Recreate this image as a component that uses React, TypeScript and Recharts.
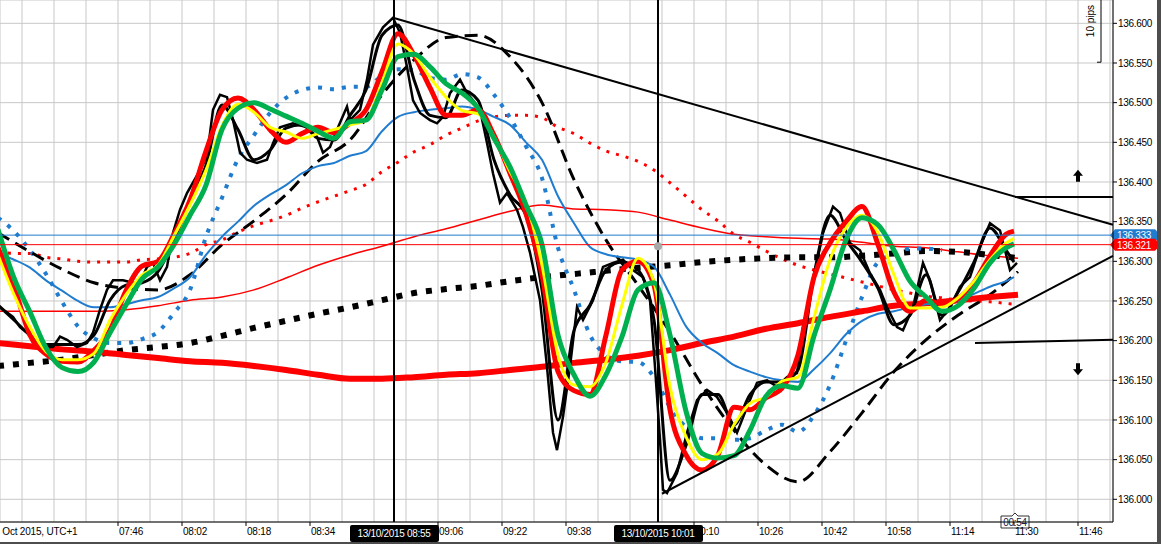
import React from 'react';
import {
  ComposedChart, Line, XAxis, YAxis, CartesianGrid, ReferenceLine, ReferenceDot,
} from 'recharts';

// time axis in minutes since midnight (13 Oct 2015, UTC+1)
const TIMES_4 = [
  436, 440, 444, 448, 452, 456, 460, 464, 468, 472, 476, 480, 484, 488, 492, 496,
  500, 504, 508, 512, 516, 520, 524, 528, 532, 536, 540, 544, 548, 552, 556, 560,
  564, 568, 572, 576, 580, 584, 588, 592, 596, 600, 604, 608, 612, 616, 620, 624,
  628, 632, 636, 640, 644, 648, 652, 656, 660, 664, 668, 672, 676, 680, 684, 688, 690,
];
const TIMES_8 = [
  436, 444, 452, 460, 468, 476, 484, 492, 500, 508, 516, 524, 532, 540, 548, 556,
  564, 572, 580, 588, 596, 604, 612, 620, 628, 636, 644, 652, 660, 668, 676, 684, 691,
];
const X_TICKS = [
  442, 450, 458, 466, 474, 482, 490, 498, 506, 514, 522, 530, 538, 546, 554, 562, 570,
  578, 586, 594, 602, 610, 618, 626, 634, 642, 650, 658, 666, 674, 682, 690, 698, 706, 714,
];
// labelled ticks (08:50 and 09:54 sit under the cursor date boxes)
const X_LABELS = [466, 482, 498, 514, 546, 562, 578, 610, 626, 642, 658, 674, 690, 706];
const Y_TICKS = [
  136.0, 136.05, 136.1, 136.15, 136.2, 136.25, 136.3, 136.35, 136.4, 136.45, 136.5, 136.55, 136.6,
];

const PRICE_TIMES = [
  436.5, 439.75, 441.5, 443.25, 444.75, 447.25, 449.75, 451.5, 453.25, 455.75, 458.25, 459.75,
  461.5, 463.25, 464.75, 467.25, 469.75, 471.5, 473.25, 474.75, 476.5, 478.25, 479.75, 481.5,
  483.25, 486.5, 488.25, 489.75, 491.5, 493.25, 494.75, 496.5, 498.25, 500.75, 503.25, 504.75,
  506.5, 509.75, 513.25, 515.75, 517.25, 519, 520.75, 523.25, 524, 526.5, 528.25, 529.75,
  532.25, 534.75, 536.5, 538.25, 539.75, 541.5, 544, 545.75, 547.25, 549, 551.5, 553.25,
  554.75, 556.5, 558.25, 559.75, 561.5, 563.25, 565.75, 567.25, 569, 571.5, 573.25, 574.75,
  575.75, 577.25, 579, 580.75, 582.25, 584.75, 587.25, 589.75, 592.25, 594.75, 597.25, 599,
  600.25, 601.5, 602.25, 603.25, 605.75, 608.25, 610.75, 613.25, 615.75, 618.25, 620.75, 623.25,
  625.75, 628.25, 630.75, 633.25, 635.75, 637.25, 639.75, 642.25, 644.75, 646.5, 649, 651.5,
  654, 656.5, 658.25, 660.75, 662.25, 664.75, 667.25, 669, 671.5, 674, 676.5, 679,
  681.5, 684, 686.5, 689, 690.75,
];
const PRICE = [
  136.242, 136.230, 136.217, 136.210, 136.201, 136.192, 136.192, 136.205, 136.201, 136.192, 136.197, 136.210,
  136.239, 136.264, 136.276, 136.276, 136.273, 136.273, 136.293, 136.298, 136.276, 136.293, 136.336, 136.365,
  136.386, 136.415, 136.432, 136.491, 136.510, 136.507, 136.478, 136.437, 136.428, 136.424, 136.428, 136.449,
  136.469, 136.474, 136.469, 136.457, 136.437, 136.444, 136.466, 136.495, 136.478, 136.491, 136.529, 136.573,
  136.595, 136.607, 136.588, 136.545, 136.503, 136.487, 136.478, 136.474, 136.482, 136.512, 136.529, 136.512,
  136.503, 136.491, 136.449, 136.411, 136.374, 136.386, 136.365, 136.343, 136.311, 136.251, 136.167, 136.084,
  136.062, 136.104, 136.167, 136.242, 136.226, 136.251, 136.293, 136.298, 136.302, 136.289, 136.280, 136.251,
  136.167, 136.075, 136.012, 136.008, 136.033, 136.084, 136.125, 136.138, 136.129, 136.109, 136.084, 136.116,
  136.147, 136.150, 136.142, 136.154, 136.159, 136.217, 136.276, 136.336, 136.369, 136.361, 136.323, 136.314,
  136.285, 136.264, 136.242, 136.217, 136.213, 136.242, 136.298, 136.276, 136.226, 136.242, 136.268, 136.280,
  136.318, 136.348, 136.339, 136.289, 136.298,
];

const BLACK_FAST = [
  136.245, 136.226, 136.207, 136.195, 136.195, 136.195, 136.207, 136.251, 136.270, 136.273, 136.287, 136.327,
  136.377, 136.421, 136.497, 136.466, 136.428, 136.440, 136.468, 136.472, 136.455, 136.453, 136.484, 136.516,
  136.585, 136.598, 136.529, 136.484, 136.481, 136.516, 136.503, 136.428, 136.384, 136.358, 136.264, 136.100,
  136.213, 136.245, 136.289, 136.299, 136.289, 136.226, 136.024, 136.068, 136.132, 136.132, 136.094, 136.132,
  136.148, 136.148, 136.163, 136.283, 136.358, 136.327, 136.299, 136.266, 136.220, 136.232, 136.283, 136.232,
  136.261, 136.299, 136.342, 136.314, 136.299,
];
const RED_FAST = [
  136.317, 136.268, 136.207, 136.183, 136.174, 136.173, 136.188, 136.213, 136.263, 136.294, 136.300, 136.334,
  136.377, 136.439, 136.491, 136.506, 136.491, 136.466, 136.450, 136.461, 136.469, 136.462, 136.474, 136.491,
  136.539, 136.587, 136.560, 136.519, 136.484, 136.484, 136.491, 136.459, 136.411, 136.360, 136.283, 136.161,
  136.137, 136.132, 136.207, 136.289, 136.300, 136.270, 136.113, 136.056, 136.037, 136.056, 136.116, 136.113,
  136.128, 136.140, 136.182, 136.280, 136.323, 136.350, 136.369, 136.321, 136.261, 136.237, 136.251, 136.246,
  136.253, 136.273, 136.307, 136.334, 136.338,
];
const YELLOW = [
  136.308, 136.258, 136.217, 136.186, 136.176, 136.176, 136.184, 136.226, 136.258, 136.283, 136.295, 136.332,
  136.371, 136.415, 136.471, 136.498, 136.488, 136.469, 136.463, 136.455, 136.461, 136.466, 136.472, 136.478,
  136.525, 136.574, 136.561, 136.532, 136.507, 136.490, 136.486, 136.457, 136.413, 136.374, 136.295, 136.182,
  136.144, 136.142, 136.173, 136.245, 136.304, 136.274, 136.142, 136.079, 136.050, 136.057, 136.094, 136.121,
  136.129, 136.149, 136.154, 136.229, 136.302, 136.342, 136.358, 136.336, 136.283, 136.241, 136.241, 136.242,
  136.254, 136.275, 136.302, 136.323, 136.329,
];
const GREEN = [
  136.340, 136.279, 136.236, 136.191, 136.166, 136.161, 136.173, 136.210, 136.245, 136.278, 136.293, 136.321,
  136.358, 136.396, 136.466, 136.493, 136.500, 136.492, 136.483, 136.474, 136.464, 136.455, 136.476, 136.478,
  136.516, 136.558, 136.561, 136.545, 136.524, 136.512, 136.493, 136.455, 136.419, 136.371, 136.321, 136.207,
  136.157, 136.130, 136.157, 136.205, 136.264, 136.273, 136.207, 136.111, 136.058, 136.052, 136.055, 136.087,
  136.130, 136.143, 136.140, 136.206, 136.264, 136.327, 136.355, 136.346, 136.314, 136.275, 136.255, 136.237,
  136.244, 136.266, 136.298, 136.317, 136.322,
];
const BLUE = [
  136.310, 136.302, 136.292, 136.276, 136.263, 136.250, 136.242, 136.242, 136.246, 136.251, 136.255, 136.266,
  136.280, 136.308, 136.331, 136.350, 136.370, 136.384, 136.396, 136.411, 136.420, 136.424, 136.433, 136.439,
  136.464, 136.482, 136.488, 136.491, 136.493, 136.495, 136.491, 136.482, 136.472, 136.450, 136.428, 136.382,
  136.348, 136.318, 136.309, 136.305, 136.302, 136.293, 136.258, 136.218, 136.197, 136.184, 136.169, 136.161,
  136.154, 136.150, 136.148, 136.164, 136.184, 136.208, 136.225, 136.234, 136.237, 136.242, 136.246, 136.247,
  136.250, 136.259, 136.268, 136.275, 136.280,
];
// blue dotted stops at 11:12
const BLUE_DOTTED = [
  136.355, 136.338, 136.314, 136.284, 136.249, 136.218, 136.203, 136.197, 136.197, 136.202, 136.211, 136.235,
  136.264, 136.331, 136.380, 136.429, 136.459, 136.487, 136.506, 136.516, 136.519, 136.517, 136.520, 136.520,
  136.534, 136.542, 136.541, 136.531, 136.529, 136.536, 136.532, 136.510, 136.481, 136.445, 136.405, 136.317,
  136.264, 136.207, 136.182, 136.174, 136.173, 136.154, 136.116, 136.091, 136.077, 136.077, 136.075, 136.077,
  136.087, 136.094, 136.085, 136.106, 136.144, 136.200, 136.255, 136.299, 136.309, 136.316, 136.316, 136.314,
];
const RED_DOTTED = [
  136.312, 136.310, 136.310, 136.305, 136.303, 136.300, 136.299, 136.299, 136.299, 136.302, 136.303, 136.305,
  136.310, 136.321, 136.327, 136.337, 136.345, 136.351, 136.358, 136.367, 136.375, 136.382, 136.389, 136.397,
  136.413, 136.425, 136.438, 136.447, 136.459, 136.468, 136.477, 136.482, 136.484, 136.484, 136.481, 136.469,
  136.461, 136.449, 136.439, 136.433, 136.426, 136.415, 136.399, 136.382, 136.365, 136.351, 136.334, 136.324,
  136.313, 136.303, 136.295, 136.289, 136.284, 136.279, 136.274, 136.269, 136.264, 136.260, 136.256, 136.254,
  136.251, 136.250, 136.249, 136.247, 136.246,
];

const RED_THIN = [
  136.237, 136.237, 136.237, 136.237, 136.239, 136.244, 136.251, 136.255, 136.264, 136.279, 136.295,
  136.308, 136.319, 136.331, 136.341, 136.352, 136.363, 136.371, 136.366, 136.365, 136.362, 136.352,
  136.342, 136.334, 136.331, 136.329, 136.328, 136.324, 136.319, 136.317, 136.312, 136.307, 136.304,
];
const RED_SLOW = [
  136.197, 136.193, 136.189, 136.186, 136.182, 136.178, 136.174, 136.172, 136.168, 136.163, 136.157,
  136.152, 136.152, 136.154, 136.157, 136.159, 136.163, 136.167, 136.172, 136.176, 136.181, 136.188,
  136.197, 136.205, 136.215, 136.222, 136.230, 136.237, 136.244, 136.247, 136.251, 136.255, 136.258,
];
const BLACK_DOTTED = [
  136.168, 136.172, 136.176, 136.182, 136.188, 136.192, 136.197, 136.206, 136.216, 136.225, 136.234,
  136.242, 136.251, 136.260, 136.265, 136.269, 136.275, 136.280, 136.284, 136.288, 136.292, 136.295,
  136.299, 136.302, 136.304, 136.305, 136.305, 136.307, 136.310, 136.313, 136.312, 136.308, 136.304,
];
const BLACK_DASHED = [
  136.336, 136.312, 136.290, 136.273, 136.266, 136.264, 136.283, 136.321, 136.351, 136.384, 136.426,
  136.453, 136.510, 136.554, 136.582, 136.585, 136.558, 136.500, 136.403, 136.327, 136.270, 136.211,
  136.144, 136.087, 136.043, 136.022, 136.060, 136.109, 136.161, 136.201, 136.232, 136.258, 136.287,
];

const X_DOMAIN = [436.5, 714.75];
const Y_DOMAIN = [135.9714, 136.6294];
const FONT = '"Liberation Sans", Arial, sans-serif';

const pts = (times: number[], values: number[]) => values.map((v, i) => ({ t: times[i], v }));

const fmtTime = (m: number) => {
  const h = Math.floor(m / 60);
  const mm = Math.round(m - h * 60);
  return `${String(h).padStart(2, '0')}:${String(mm).padStart(2, '0')}`;
};

function TimeTick(props: any) {
  const { x, y, payload } = props;
  const v = payload.value as number;
  if (!X_LABELS.includes(v)) return <g />;
  return (
    <g>
      <line x1={x} x2={x} y1={y} y2={y + 4} stroke="#000" />
      <text x={x + 1} y={y + 13} fontSize={10} fontFamily={FONT} fill="#000" letterSpacing={-0.2}>
        {fmtTime(v)}
      </text>
      {v === 466 && (
        <text x={x - 129} y={y + 13} fontSize={10} fontFamily={FONT} fill="#000" letterSpacing={-0.2}>
          13 Oct 2015, UTC+1
        </text>
      )}
    </g>
  );
}

function PriceTag({ viewBox, text, color }: any) {
  const x = viewBox.x + viewBox.width;
  const y = viewBox.y;
  return (
    <g>
      <path
        d={`M${x - 3},${y} L${x + 2},${y - 6} L${x + 42},${y - 6} L${x + 45},${y - 3} L${x + 45},${y + 3} L${x + 42},${y + 6} L${x + 2},${y + 6} Z`}
        fill={color}
      />
      <text x={x + 4} y={y + 4} fontSize={10} fontFamily={FONT} fill="#fff" letterSpacing={-0.3}>{text}</text>
    </g>
  );
}

function DateBox({ viewBox, text }: any) {
  const x = viewBox.x;
  const bottom = viewBox.y + viewBox.height;
  return (
    <g>
      <rect x={x - 44} y={bottom + 3} width={89} height={17} rx={2} fill="#000" />
      <text x={x} y={bottom + 15} textAnchor="middle" fontSize={10} fontFamily={FONT} fill="#fff" letterSpacing={-0.3}>
        {text}
      </text>
    </g>
  );
}

function TimerBox({ viewBox, text }: any) {
  const x = viewBox.x;
  const b = viewBox.y + viewBox.height;
  return (
    <g>
      <path
        d={`M${x - 14},${b - 6} L${x - 3},${b - 6} L${x},${b - 9} L${x + 3},${b - 6} L${x + 14},${b - 6} L${x + 14},${b + 6} L${x - 14},${b + 6} Z`}
        fill="#fff"
        stroke="#333"
      />
      <text x={x} y={b + 4} textAnchor="middle" fontSize={10} fontFamily={FONT} fill="#1a2040" letterSpacing={-0.3}>
        {text}
      </text>
    </g>
  );
}

function PipsLabel({ viewBox }: any) {
  const x = viewBox.x;
  const y = viewBox.y;
  const b = viewBox.y + viewBox.height;
  return (
    <g>
      <line x1={x - 4} x2={x} y1={b} y2={b} stroke="#000" />
      <text
        x={x - 7}
        y={y + 21}
        transform={`rotate(-90 ${x - 7} ${y + 21})`}
        textAnchor="middle"
        fontSize={10}
        fontFamily={FONT}
        fill="#000"
      >
        10 pips
      </text>
    </g>
  );
}

function Arrow({ cx, cy, up }: any) {
  const d = up
    ? `M${cx},${cy - 6} L${cx + 5},${cy} L${cx + 2},${cy} L${cx + 2},${cy + 6} L${cx - 2},${cy + 6} L${cx - 2},${cy} L${cx - 5},${cy} Z`
    : `M${cx},${cy + 6} L${cx + 5},${cy} L${cx + 2},${cy} L${cx + 2},${cy - 6} L${cx - 2},${cy - 6} L${cx - 2},${cy} L${cx - 5},${cy} Z`;
  return <path d={d} fill="#000" />;
}

const lineProps = {
  dataKey: 'v',
  dot: false,
  activeDot: false,
  isAnimationActive: false,
  legendType: 'none' as const,
};

export default function App() {
  return (
    <div
      style={{
        position: 'absolute', left: 0, top: 0, width: 1157, height: 542, background: '#fff',
        borderRight: '4px solid #4d4d4d', borderBottom: '2px solid #4d4d4d',
      }}
    >
      <ComposedChart width={1157} height={542} margin={{ top: 0, right: 0, bottom: 0, left: 0 }}>
        <CartesianGrid stroke="#c8c8c8" strokeWidth={1} />
        <XAxis
          type="number"
          dataKey="t"
          domain={X_DOMAIN}
          ticks={X_TICKS}
          allowDataOverflow
          height={20}
          tickSize={0}
          tickMargin={0}
          axisLine={{ stroke: '#000' }}
          tick={(p: any) => <TimeTick {...p} />}
          interval={0}
        />
        <YAxis
          type="number"
          orientation="right"
          domain={Y_DOMAIN}
          ticks={Y_TICKS}
          allowDataOverflow
          width={44}
          tickSize={4}
          tickMargin={1}
          axisLine={{ stroke: '#000' }}
          tickLine={{ stroke: '#000' }}
          tick={{ fontSize: 10, fontFamily: FONT, fill: '#000', letterSpacing: -0.3 }}
          tickFormatter={(v: number) => v.toFixed(3)}
          interval={0}
        />

        <Line {...lineProps} data={pts(TIMES_8, RED_THIN)} type="monotone" stroke="#ff0000" strokeWidth={1.5} />
        <Line {...lineProps} data={pts(TIMES_4, RED_DOTTED)} type="monotone" stroke="#ff0000" strokeWidth={3} strokeDasharray="3 7" />
        <Line {...lineProps} data={pts(TIMES_8, BLACK_DOTTED)} type="monotone" stroke="#000" strokeWidth={6} strokeDasharray="6 9" />
        <Line {...lineProps} data={pts(TIMES_4, BLUE_DOTTED)} type="monotone" stroke="#1f7ccf" strokeWidth={4} strokeDasharray="4 8" />
        <Line {...lineProps} data={pts(TIMES_8, BLACK_DASHED)} type="monotone" stroke="#000" strokeWidth={3} strokeDasharray="13 7" />
        <Line {...lineProps} data={pts(TIMES_8, RED_SLOW)} type="monotone" stroke="#ff0000" strokeWidth={6} />
        <Line {...lineProps} data={pts(TIMES_4, BLUE)} type="monotone" stroke="#1f7ccf" strokeWidth={2} />
        <Line {...lineProps} data={pts(PRICE_TIMES, PRICE)} type="linear" stroke="#000" strokeWidth={2.5} />
        <Line {...lineProps} data={pts(TIMES_4, BLACK_FAST)} type="monotone" stroke="#000" strokeWidth={3} />
        <Line {...lineProps} data={pts(TIMES_4, RED_FAST)} type="monotone" stroke="#ff0000" strokeWidth={5} />
        <Line {...lineProps} data={pts(TIMES_4, YELLOW)} type="monotone" stroke="#ffff00" strokeWidth={3} />
        <Line {...lineProps} data={pts(TIMES_4, GREEN)} type="monotone" stroke="#00b04f" strokeWidth={5} />

        {/* triangle */}
        <ReferenceLine segment={[{ x: 534.75, y: 136.607 }, { x: 714.75, y: 136.346 }]} stroke="#000" strokeWidth={2} />
        <ReferenceLine segment={[{ x: 602, y: 136.007 }, { x: 714.75, y: 136.307 }]} stroke="#000" strokeWidth={2} />
        {/* breakout levels */}
        <ReferenceLine segment={[{ x: 690.25, y: 136.381 }, { x: 714.75, y: 136.381 }]} stroke="#000" strokeWidth={2} />
        <ReferenceLine segment={[{ x: 680.25, y: 136.197 }, { x: 714.75, y: 136.201 }]} stroke="#000" strokeWidth={2} />
        <ReferenceDot x={706} y={136.408} r={6} shape={(p: any) => <Arrow cx={p.cx} cy={p.cy} up />} />
        <ReferenceDot x={706} y={136.164} r={6} shape={(p: any) => <Arrow cx={p.cx} cy={p.cy} />} />
        <ReferenceLine
          segment={[{ x: 711.75, y: 136.6294 }, { x: 711.75, y: 136.551 }]}
          stroke="#000"
          strokeWidth={1}
          label={(p: any) => <PipsLabel viewBox={p.viewBox} />}
        />

        {/* bid / ask */}
        <ReferenceLine y={136.333} stroke="#1f7ccf" strokeWidth={1} label={(p: any) => <PriceTag viewBox={p.viewBox} text="136.333" color="#1f7ccf" />} />
        <ReferenceLine y={136.321} stroke="#ff0000" strokeWidth={1} label={(p: any) => <PriceTag viewBox={p.viewBox} text="136.321" color="#ff0000" />} />

        {/* cursor lines */}
        <ReferenceLine x={535} stroke="#000" strokeWidth={2} label={(p: any) => <DateBox viewBox={p.viewBox} text="13/10/2015 08:55" />} />
        <ReferenceLine x={601} stroke="#000" strokeWidth={2} label={(p: any) => <DateBox viewBox={p.viewBox} text="13/10/2015 10:01" />} />
        <ReferenceDot x={601} y={136.319} r={4} fill="#a8a8a8" stroke="none" />
        <ReferenceLine x={690.25} stroke="none" label={(p: any) => <TimerBox viewBox={p.viewBox} text="00:54" />} />
      </ComposedChart>
    </div>
  );
}
